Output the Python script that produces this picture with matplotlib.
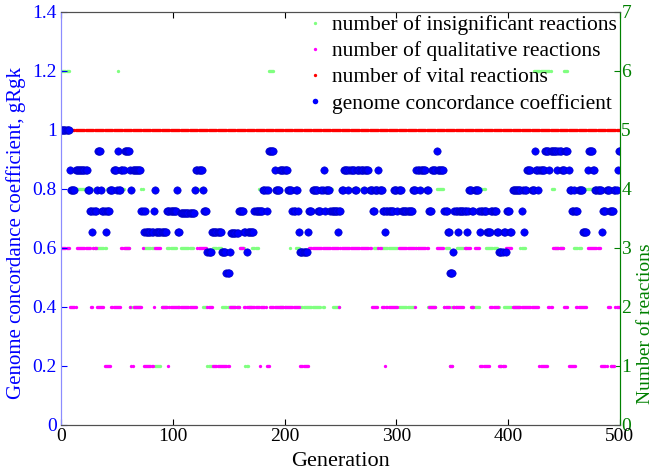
import numpy as np
import matplotlib
matplotlib.use("Agg")
import matplotlib.pyplot as plt
from matplotlib.lines import Line2D

plt.rcParams["font.family"] = ["Liberation Serif", "DejaVu Serif"]

# Runs of (last generation, value); each run starts one after the previous end.
blue_runs = [
    (7, 1.0), (8, 0.865), (12, 0.795), (23, 0.865), (25, 0.795), (27, 0.726), (28, 0.655),
    (31, 0.726), (32, 0.795), (35, 0.93), (36, 0.795), (39, 0.726), (40, 0.655), (43, 0.726),
    (46, 0.795), (49, 0.865), (50, 0.795), (51, 0.93), (53, 0.795), (56, 0.865), (61, 0.93),
    (62, 0.865), (63, 0.795), (71, 0.865), (73, 0.726), (74, 0.655), (75, 0.726), (82, 0.655),
    (83, 0.726), (84, 0.795), (94, 0.655), (103, 0.726), (104, 0.795), (106, 0.655), (119, 0.72),
    (120, 0.795), (126, 0.865), (127, 0.795), (130, 0.726), (134, 0.585), (143, 0.655),
    (147, 0.585), (150, 0.514), (151, 0.585), (158, 0.65), (163, 0.726), (165, 0.655),
    (166, 0.585), (172, 0.655), (180, 0.726), (183, 0.795), (184, 0.726), (185, 0.795),
    (190, 0.93), (191, 0.865), (195, 0.795), (202, 0.865), (206, 0.795), (209, 0.726),
    (211, 0.795), (212, 0.726), (213, 0.655), (220, 0.585), (221, 0.655), (224, 0.726),
    (229, 0.795), (232, 0.726), (234, 0.795), (235, 0.865), (236, 0.726), (240, 0.795),
    (247, 0.726), (248, 0.655), (250, 0.726), (252, 0.795), (256, 0.865), (257, 0.795),
    (262, 0.865), (264, 0.795), (270, 0.865), (271, 0.795), (275, 0.865), (278, 0.795),
    (280, 0.726), (283, 0.795), (284, 0.865), (287, 0.795), (289, 0.726), (290, 0.655),
    (297, 0.726), (300, 0.795), (301, 0.726), (304, 0.795), (314, 0.726), (317, 0.795),
    (320, 0.865), (321, 0.795), (326, 0.865), (328, 0.795), (331, 0.726), (335, 0.865),
    (336, 0.93), (342, 0.865), (345, 0.726), (347, 0.655), (350, 0.514), (351, 0.585),
    (354, 0.726), (355, 0.655), (362, 0.726), (363, 0.655), (364, 0.726), (367, 0.795),
    (369, 0.726), (373, 0.795), (374, 0.726), (375, 0.655), (380, 0.726), (384, 0.655),
    (389, 0.726), (391, 0.655), (395, 0.585), (397, 0.655), (398, 0.585), (401, 0.726),
    (403, 0.655), (411, 0.795), (412, 0.726), (413, 0.795), (414, 0.655), (416, 0.795),
    (420, 0.865), (423, 0.795), (424, 0.93), (426, 0.865), (427, 0.795), (432, 0.865),
    (436, 0.93), (437, 0.865), (443, 0.93), (444, 0.865), (447, 0.93), (450, 0.865),
    (453, 0.93), (454, 0.865), (456, 0.795), (458, 0.726), (459, 0.795), (462, 0.726),
    (466, 0.795), (470, 0.655), (471, 0.865), (475, 0.93), (477, 0.865), (483, 0.795),
    (484, 0.655), (487, 0.726), (490, 0.795), (494, 0.726), (497, 0.795), (498, 0.865),
    (500, 0.93),
]

qualitative_runs = [
    (7, 3), (13, 2), (26, 3), (28, 2), (31, 3), (38, 2), (44, 1), (53, 2), (61, 3), (62, 2),
    (64, 1), (72, 2), (73, 3), (82, 1), (83, 2), (89, 3), (95, 2), (96, 1), (121, 2), (130, 3),
    (135, 2), (150, 1), (159, 2), (163, 3), (177, 2), (178, 1), (183, 2), (186, 1), (213, 2),
    (221, 1), (248, 3), (249, 2), (277, 3), (283, 2), (286, 3), (289, 2), (290, 1), (301, 2),
    (316, 3), (317, 2), (328, 3), (335, 2), (342, 3), (347, 2), (350, 1), (360, 2), (366, 3),
    (369, 2), (374, 3), (383, 1), (391, 2), (397, 1), (403, 3), (427, 2), (435, 1), (439, 2),
    (449, 3), (453, 2), (460, 1), (470, 2), (482, 3), (488, 1), (491, 2), (495, 1), (500, 2),
]

insignificant_runs = [
    (7, 6), (28, 4), (40, 3), (50, 4), (51, 6), (56, 4), (61, 3), (71, 2), (73, 4), (83, 3),
    (89, 1), (94, 2), (103, 3), (104, 4), (106, 2), (118, 3), (126, 4), (130, 2), (135, 1),
    (143, 3), (159, 2), (164, 3), (167, 1), (170, 2), (176, 3), (185, 4), (190, 6), (195, 4),
    (200, 2), (204, 4), (205, 3), (209, 4), (213, 3), (232, 2), (233, 4), (235, 2), (242, 4),
    (249, 2), (279, 4), (283, 3), (286, 4), (301, 3), (316, 2), (319, 3), (327, 4), (335, 2),
    (342, 4), (343, 2), (347, 3), (348, 1), (349, 2), (350, 1), (353, 2), (362, 3), (367, 4),
    (374, 2), (379, 4), (390, 3), (392, 2), (395, 1), (410, 2), (415, 3), (422, 4), (438, 6),
    (441, 4), (449, 3), (453, 6), (458, 4), (465, 3), (491, 4), (492, 1), (500, 4),
]

vital_runs = [(500, 5)]

labels = [
    "number of insignificant reactions",
    "number of qualitative reactions",
    "number of vital reactions",
    "genome concordance coefficient",
]


def expand(runs):
    ends = np.array([e for e, _ in runs])
    vals = np.array([v for _, v in runs], dtype=float)
    lengths = np.diff(np.concatenate(([-1], ends)))
    return np.repeat(vals, lengths)


generation = np.arange(0, 501)
grgk = expand(blue_runs)
qualitative = expand(qualitative_runs)
insignificant = expand(insignificant_runs)
vital = expand(vital_runs)

BLUE = "#0000ff"
GREEN_AX = "#008000"
C_INS = "#80ff80"
C_QUAL = "#ff00ff"
C_VITAL = "#ff0000"

fig = plt.figure(figsize=(6.56, 4.72), dpi=100)
ax = fig.add_axes([0.093, 0.0996, 0.852, 0.875])
ax2 = ax.twinx()

small = dict(ls="none", marker="o", ms=2.4, mew=0)
ax2.plot(generation, insignificant, color=C_INS, **small)
ax2.plot(generation, qualitative, color=C_QUAL, **small)
ax2.plot(generation, vital, color=C_VITAL, **small)
ax.plot(generation, grgk, ls="none", marker="o", ms=5.3, color=BLUE, mec="#0000c0", mew=0.4)

# blue series on top of the right-axis points
ax.set_zorder(ax2.get_zorder() + 1)
ax.patch.set_visible(False)

ax.set_xlim(0, 500)
ax.set_ylim(0, 1.4)
ax2.set_ylim(0, 7)
ax.set_xticks(np.arange(0, 501, 100))
ax.set_yticks(np.arange(0, 1.41, 0.2))
ax.set_yticklabels(["0", "0.2", "0.4", "0.6", "0.8", "1", "1.2", "1.4"])
ax2.set_yticks(np.arange(0, 8, 1))

ax.tick_params(axis="x", direction="in", length=4, labelsize=14, colors="black", top=True, pad=2)
ax.tick_params(axis="y", direction="in", length=4, labelsize=14, colors=BLUE, pad=3)
ax2.tick_params(axis="y", direction="in", length=4, labelsize=14, colors=GREEN_AX, pad=1)

for name in ("top", "bottom"):
    ax.spines[name].set_color("#505050")
    ax2.spines[name].set_color("#505050")
ax.spines["left"].set_color("#8c8cff")
ax2.spines["left"].set_color("#8c8cff")
ax.spines["right"].set_color(GREEN_AX)
ax2.spines["right"].set_color(GREEN_AX)

ax.set_xlabel("Generation", fontsize=16, labelpad=5)
ax.set_ylabel("Genome concordance coefficient, gRgk", fontsize=15, color=BLUE)
ax.yaxis.set_label_coords(-0.063, 0.465)
ax2.set_ylabel("Number of reactions", fontsize=14, color=GREEN_AX)
ax2.yaxis.set_label_coords(1.031, 0.245)

handles = [
    Line2D([], [], color=C_INS, **small),
    Line2D([], [], color=C_QUAL, **small),
    Line2D([], [], color=C_VITAL, **small),
    Line2D([], [], ls="none", marker="o", ms=4.0, color=BLUE, mew=0),
]
ax.legend(handles, labels, loc="upper right", frameon=False, fontsize=15.5,
          handlelength=0.8, handletextpad=0.4, labelspacing=0.28,
          borderaxespad=0.05, borderpad=0.1)

fig.savefig("out.png", dpi=100)
